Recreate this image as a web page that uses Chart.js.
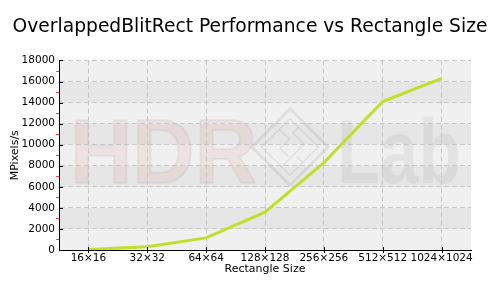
<!DOCTYPE html>
<html>
<head>
<meta charset="utf-8">
<script src="https://cdn.jsdelivr.net/npm/chart.js@4/dist/chart.umd.min.js"></script>
<style>
  html, body { margin: 0; padding: 0; background: #fff; }
  #wrap { width: 500px; height: 300px; }
</style>
</head>
<body>
<div id="wrap"><canvas id="perfChart" width="500" height="300"></canvas></div>
<script>
// chart data
const sizes = ["16×16", "32×32", "64×64", "128×128", "256×256", "512×512", "1024×1024"];
const mpixels = [50, 300, 1150, 3600, 8300, 14100, 16300];
const yTicks = [0, 2000, 4000, 6000, 8000, 10000, 12000, 14000, 16000, 18000];

const FONT = "'DejaVu Sans', Verdana, sans-serif";
const lineColor = "#bee028";

// alternating grey bands + the faint "HDR Lab" watermark behind the grid
const backdrop = {
    id: "backdrop",
    beforeDraw(chart) {
        const {ctx, chartArea: a, scales: {y}} = chart;
        ctx.save();
        for (let i = 0; i < yTicks.length - 1; i++) {
            const top = y.getPixelForValue(yTicks[i + 1]);
            const bot = y.getPixelForValue(yTicks[i]);
            ctx.fillStyle = i % 2 === 1 ? "#e6e6e6" : "#f0f0f0";
            ctx.fillRect(a.left, top, a.right - a.left, bot - top);
        }

        ctx.textBaseline = "alphabetic";
        ctx.font = "bold 90px 'Liberation Sans', Arial, sans-serif";
        ctx.fillStyle = "rgba(215,110,110,0.10)";
        ctx.strokeStyle = "rgba(120,120,120,0.09)";
        ctx.lineWidth = 2;
        ctx.fillText("HDR", 70, 183, 187);
        ctx.strokeText("HDR", 70, 183, 187);

        ctx.fillStyle = "rgba(0,0,0,0.05)";
        ctx.fillText("Lab", 337, 183, 124);

        // diamond logo
        ctx.translate(290, 147);
        ctx.rotate(Math.PI / 4);
        ctx.strokeStyle = "rgba(0,0,0,0.07)";
        ctx.lineWidth = 3;
        ctx.strokeRect(-27, -27, 54, 54);
        ctx.lineWidth = 1.5;
        ctx.strokeRect(-20, -20, 40, 40);
        ctx.beginPath();
        ctx.moveTo(-20, -5); ctx.lineTo(-6, -5); ctx.lineTo(-6, 8); ctx.lineTo(6, 8);
        ctx.moveTo(-8, -20); ctx.lineTo(-8, -12); ctx.lineTo(8, -12); ctx.lineTo(8, 20);
        ctx.moveTo(20, 2); ctx.lineTo(12, 2);
        ctx.stroke();
        ctx.restore();
    },
    afterDraw(chart) {
        const {ctx, chartArea: a, scales: {x, y}} = chart;
        ctx.save();
        ctx.lineWidth = 1;
        // major ticks (inward) and red minor ticks (outward) on the y axis
        for (let v = 0; v <= 18000; v += 1000) {
            const py = Math.round(y.getPixelForValue(v)) + 0.5;
            ctx.beginPath();
            if (v % 2000 === 0) {
                ctx.strokeStyle = "#000";
                ctx.moveTo(a.left, py); ctx.lineTo(a.left + 4, py);
            } else {
                ctx.strokeStyle = "#ff4040";
                ctx.moveTo(a.left - 3, py); ctx.lineTo(a.left, py);
            }
            ctx.stroke();
        }
        ctx.strokeStyle = "#000";
        sizes.forEach((s, i) => {
            const px = Math.round(x.getPixelForValue(i)) + 0.5;
            ctx.beginPath();
            ctx.moveTo(px, a.bottom - 3); ctx.lineTo(px, a.bottom + 3);
            ctx.stroke();
        });
        ctx.restore();
    }
};

const ctx = document.getElementById("perfChart").getContext("2d");
new Chart(ctx, {
    type: "line",
    data: {
        labels: sizes,
        datasets: [{
            label: "MPixels/s",
            data: mpixels,
            borderColor: lineColor,
            borderWidth: 3,
            pointRadius: 0,
            tension: 0,
            fill: false
        }]
    },
    options: {
        responsive: false,
        animation: false,
        layout: { padding: 0 },
        plugins: {
            legend: { display: false },
            tooltip: { enabled: false },
            title: {
                display: true,
                text: "OverlappedBlitRect Performance vs Rectangle Size",
                color: "#000",
                font: { family: FONT, size: 18.7, weight: "normal" },
                padding: { top: 16, bottom: 22 }
            }
        },
        scales: {
            x: {
                offset: true,
                grid: {
                    offset: false,
                    color: "#c6c6c6",
                    drawTicks: false
                },
                border: { display: true, color: "#000", width: 1, dash: [5, 3] },
                ticks: {
                    color: "#000",
                    font: { family: FONT, size: 10.5 },
                    padding: 2,
                    autoSkip: false,
                    maxRotation: 0
                },
                title: {
                    display: true,
                    text: "Rectangle Size",
                    color: "#000",
                    font: { family: FONT, size: 11 },
                    padding: { top: 0, bottom: 24 }
                },
                afterFit: s => { s.height = 50; }
            },
            y: {
                min: 0,
                max: 18000,
                afterBuildTicks: s => { s.ticks = yTicks.map(v => ({value: v})); },
                grid: {
                    color: "#c6c6c6",
                    drawTicks: false
                },
                border: { display: true, color: "#000", width: 1, dash: [5, 3] },
                ticks: {
                    color: "#000",
                    font: { family: FONT, size: 10.5 },
                    padding: 4,
                    callback: v => String(v)
                },
                title: {
                    display: true,
                    text: "MPixels/s",
                    color: "#000",
                    font: { family: FONT, size: 11 },
                    padding: { top: 9, bottom: 0 }
                },
                afterFit: s => { s.width = 59; }
            },
            // empty right-hand spacer so the title stays centred on the whole canvas
            spacer: {
                type: "linear",
                position: "right",
                display: true,
                grid: { display: false, drawTicks: false },
                border: { display: false },
                ticks: { display: false },
                afterFit: s => { s.width = 29; }
            }
        }
    },
    plugins: [backdrop]
});
</script>
</body>
</html>
